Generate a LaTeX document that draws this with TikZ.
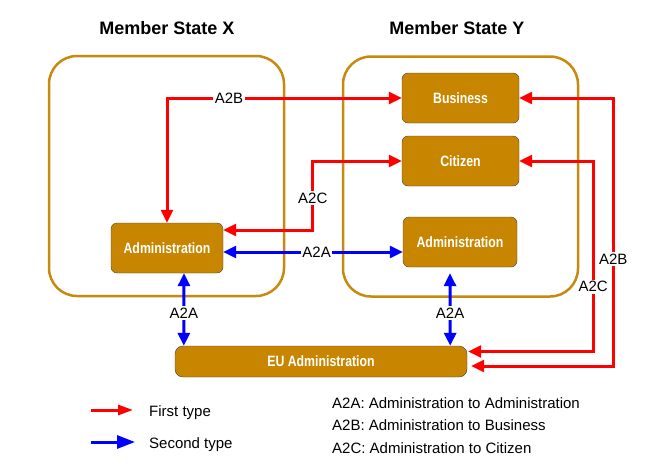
\documentclass[tikz,border=0pt]{standalone}
\usepackage{fontspec}
\setmainfont{Liberation Sans}
\newfontfamily\unitfont[FakeStretch=0.82]{Liberation Sans}
\usepackage{tikz}
\usetikzlibrary{arrows.meta, positioning}
\usepackage{xcolor}
\definecolor{gold}{HTML}{C88600}
\definecolor{goldline}{HTML}{C8890F}
\definecolor{arrred}{HTML}{FF0000}
\definecolor{arrblue}{HTML}{0000FF}

\begin{document}
\begin{tikzpicture}[
    x=1pt, y=-1pt,
    unit/.style={draw=black!75, fill=gold, rounded corners=6pt, text=white, font=\unitfont\bfseries\fontsize{15}{18}\selectfont, minimum height=50pt},
    statebox/.style={draw=goldline, line width=2.5pt, rounded corners=28pt, minimum width=235pt, minimum height=240pt},
    statetitle/.style={font=\bfseries\fontsize{18}{22}\selectfont},
    lbl/.style={fill=white, inner sep=1.5pt, font=\fontsize{15}{18}\selectfont},
    legend/.style={anchor=west, inner sep=2pt, font=\fontsize{15}{18}\selectfont},
    redarrow/.style={draw=arrred, line width=3pt, {Triangle[length=13pt,width=12pt]}-{Triangle[length=13pt,width=12pt]}},
    bluearrow/.style={draw=arrblue, line width=3pt, {Triangle[length=13pt,width=12pt]}-{Triangle[length=13pt,width=12pt]}}
]
\useasboundingbox (0,0) rectangle (649,467);

% Member states
\node[statebox] (boxX) at (166.5,176) {};
\node[statebox] (boxY) at (460.5,176.5) {};
\node[statetitle] (titleX) at (167,28) {Member State X};
\node[statetitle] (titleY) at (457,28) {Member State Y};

% Units
\node[unit, minimum width=112pt] (admX) at (167,248) {Administration};
\node[unit, minimum width=117pt] (bus) at (460.5,98) {Business};
\node[unit, minimum width=117pt] (cit) at (460.5,161) {Citizen};
\node[unit, minimum width=114pt] (admY) at (460,242) {Administration};
\node[unit, minimum width=292pt, minimum height=31pt, rounded corners=8pt] (eu) at (321,361.5) {EU Administration};

% Arrows
\draw[redarrow] (bus.west) -| (admX.north) node[lbl, pos=0.368] {A2B\hspace{10pt}};
\draw[redarrow] ([yshift=18pt]admX.east) -| ([xshift=-89pt]cit.west) node[lbl, pos=0.73] {A2C} -- (cit.west);
\draw[bluearrow] ([yshift=-4pt]admX.east) -- ([yshift=-10pt]admY.west) node[lbl, pos=0.52] {A2A};
\draw[bluearrow] ([xshift=17pt]admX.south) -- ([xshift=9pt]eu.north west) node[lbl, pos=0.55] {A2A};
\draw[bluearrow] ([xshift=-10pt,yshift=-6pt]admY.south) -- ([xshift=-17pt]eu.north east) node[lbl, pos=0.55] {A2A};
\draw[redarrow] (bus.east) -- ++(94pt,0pt) |- ([xshift=4pt,yshift=-4.5pt]eu.east) node[lbl, pos=0.3] {A2B};
\draw[redarrow] (cit.east) -- ++(74pt,0pt) |- ([xshift=1pt,yshift=10pt]eu.east) node[lbl, pos=0.33] {A2C};

% Legend
\node[legend] (first) at (147,413) {First type};
\node[legend] (second) at (147,445) {Second type};
\draw[redarrow, -{Triangle[length=15pt,width=10pt]}] ([xshift=-56pt,yshift=3pt]first.west) -- ([xshift=-14pt,yshift=3pt]first.west);
\draw[bluearrow, -{Triangle[length=18pt,width=13pt]}] ([xshift=-56pt,yshift=3pt]second.west) -- ([xshift=-12pt,yshift=3pt]second.west);
\node[legend] (keyA) at (330,403) {A2A: Administration to Administration};
\node[legend] (keyB) at (330,425) {A2B: Administration to Business};
\node[legend] (keyC) at (330,448) {A2C: Administration to Citizen};

\end{tikzpicture}
\end{document}
